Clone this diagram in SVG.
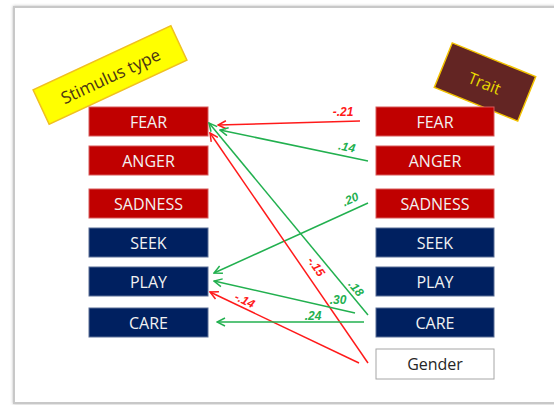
<svg xmlns="http://www.w3.org/2000/svg" width="554" height="405" viewBox="0 0 554 405">
  <style>
    .box text { font-family: "Open Sans", "Liberation Sans", sans-serif; font-size: 16px; text-anchor: middle; dominant-baseline: central; fill: #F2F2F2; }
    .red rect { fill: #C00000; stroke: #D85A5A; stroke-width: 1; }
    .navy rect { fill: #002060; stroke: #5A6E96; stroke-width: 1; }
    .white rect { fill: #FFFFFF; stroke: #A6A6A6; stroke-width: 1; }
    .white text { fill: #262626; }
    .cr { stroke: #FF1A1A; stroke-width: 1.5; fill: none; marker-end: url(#ahR); }
    .cg { stroke: #22B04F; stroke-width: 1.5; fill: none; marker-end: url(#ahG); }
    .lbl { font-family: "Liberation Sans", Arial, sans-serif; font-size: 12px; font-weight: bold; font-style: italic; text-anchor: middle; }
    .lr { fill: #FF1A1A; }
    .lg { fill: #22B04F; }
  </style>
  <defs>
    <marker id="ahR" markerWidth="10" markerHeight="10" refX="9" refY="5" orient="auto" markerUnits="userSpaceOnUse">
      <polyline points="1,1 9,5 1,9" fill="none" stroke="#FF1A1A" stroke-width="1.5"/>
    </marker>
    <marker id="ahG" markerWidth="10" markerHeight="10" refX="9" refY="5" orient="auto" markerUnits="userSpaceOnUse">
      <polyline points="1,1 9,5 1,9" fill="none" stroke="#22B04F" stroke-width="1.5"/>
    </marker>
    <filter id="sh" x="-5%" y="-5%" width="110%" height="110%">
      <feDropShadow dx="0" dy="0" stdDeviation="1.5" flood-color="#888" flood-opacity="0.6"/>
    </filter>
  </defs>

  <rect x="0" y="0" width="554" height="405" fill="#FFFFFF"/>
  <rect x="14" y="7" width="560" height="396" fill="#FFFFFF" stroke="#C8C8C8" stroke-width="2" filter="url(#sh)"/>

  <g id="label-stimulus">
    <g transform="translate(110,75) rotate(-25)">
      <rect x="-76" y="-19" width="152" height="38" fill="#FFFF00" stroke="#F0C020" stroke-width="1.5"/>
      <text x="0" y="1" font-family="Open Sans, Liberation Sans, sans-serif" font-size="17" fill="#4A3414" text-anchor="middle" dominant-baseline="central">Stimulus type</text>
    </g>
  </g>
  <g id="label-trait">
    <g transform="translate(485,82) rotate(22)">
      <rect x="-45" y="-24" width="90" height="48" fill="#632523" stroke="#F2C200" stroke-width="1.5"/>
      <text x="0" y="1" font-family="Open Sans, Liberation Sans, sans-serif" font-size="16" fill="#E8D800" text-anchor="middle" dominant-baseline="central">Trait</text>
    </g>
  </g>

  <g id="s-fear" class="box red"><rect x="89" y="107" width="119" height="29"/><text x="148.5" y="121.5">FEAR</text></g>
  <g id="s-anger" class="box red"><rect x="89" y="146" width="119" height="29"/><text x="148.5" y="160.5">ANGER</text></g>
  <g id="s-sadness" class="box red"><rect x="89" y="189" width="119" height="29"/><text x="148.5" y="203.5">SADNESS</text></g>
  <g id="s-seek" class="box navy"><rect x="89" y="228" width="119" height="29"/><text x="148.5" y="242.5">SEEK</text></g>
  <g id="s-play" class="box navy"><rect x="89" y="267" width="119" height="29"/><text x="148.5" y="281.5">PLAY</text></g>
  <g id="s-care" class="box navy"><rect x="89" y="308" width="119" height="29"/><text x="148.5" y="322.5">CARE</text></g>

  <g id="t-fear" class="box red"><rect x="376" y="107" width="118" height="29"/><text x="435" y="121.5">FEAR</text></g>
  <g id="t-anger" class="box red"><rect x="376" y="146" width="118" height="29"/><text x="435" y="160.5">ANGER</text></g>
  <g id="t-sadness" class="box red"><rect x="376" y="189" width="118" height="29"/><text x="435" y="203.5">SADNESS</text></g>
  <g id="t-seek" class="box navy"><rect x="376" y="228" width="118" height="29"/><text x="435" y="242.5">SEEK</text></g>
  <g id="t-play" class="box navy"><rect x="376" y="267" width="118" height="29"/><text x="435" y="281.5">PLAY</text></g>
  <g id="t-care" class="box navy"><rect x="376" y="308" width="118" height="29"/><text x="435" y="322.5">CARE</text></g>
  <g id="t-gender" class="box white"><rect x="376" y="349" width="118" height="30"/><text x="435" y="364">Gender</text></g>

  <g id="connectors">
    <line class="cr" x1="360" y1="121" x2="218" y2="125"/>
    <line class="cg" x1="368" y1="161" x2="220" y2="130"/>
    <line class="cg" x1="368" y1="203" x2="214" y2="273"/>
    <line class="cg" x1="368" y1="315" x2="209" y2="123"/>
    <line class="cr" x1="368" y1="363" x2="210" y2="133"/>
    <line class="cg" x1="355" y1="313" x2="214" y2="281"/>
    <line class="cr" x1="359" y1="363" x2="210" y2="292"/>
    <line class="cg" x1="364" y1="322" x2="217" y2="322"/>

    <text class="lbl lr" x="343" y="116">-.21</text>
    <text class="lbl lg" transform="translate(346,151) rotate(12)">.14</text>
    <text class="lbl lg" transform="translate(352,203) rotate(-24)">.20</text>
    <text class="lbl lg" transform="translate(353,291) rotate(50)">.18</text>
    <text class="lbl lr" transform="translate(313,269) rotate(55)">-.15</text>
    <text class="lbl lg" transform="translate(338,304)">.30</text>
    <text class="lbl lr" transform="translate(243,304) rotate(26)">-.14</text>
    <text class="lbl lg" x="313" y="320">.24</text>
  </g>
</svg>
